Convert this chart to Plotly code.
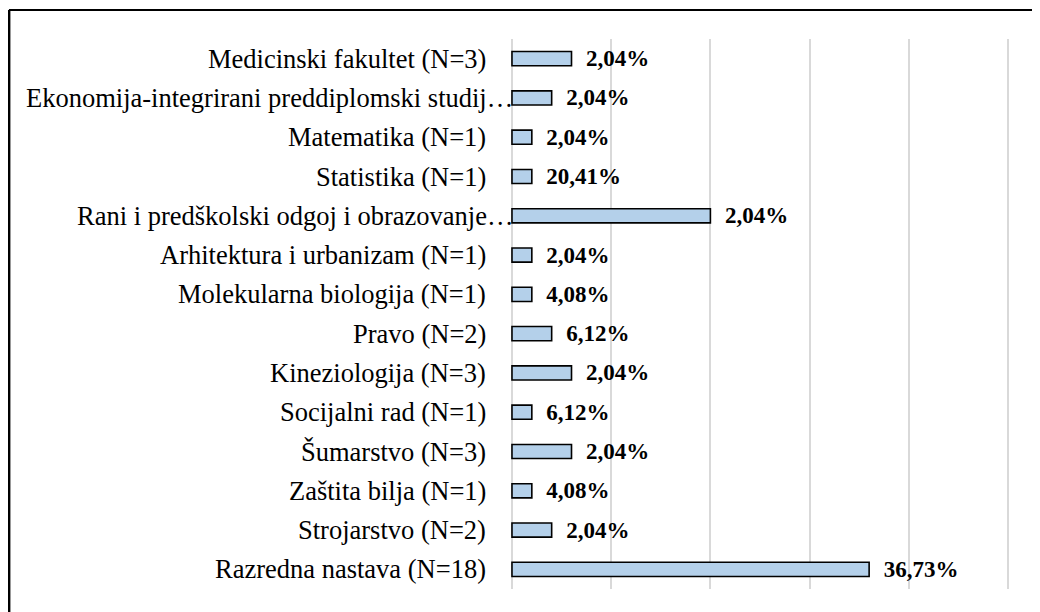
import plotly.graph_objects as go

categories = [
    "Medicinski fakultet (N=3)",
    "Ekonomija-integrirani preddiplomski studij…",
    "Matematika (N=1)",
    "Statistika (N=1)",
    "Rani i predškolski odgoj i obrazovanje…",
    "Arhitektura i urbanizam (N=1)",
    "Molekularna biologija (N=1)",
    "Pravo (N=2)",
    "Kineziologija (N=3)",
    "Socijalni rad (N=1)",
    "Šumarstvo (N=3)",
    "Zaštita bilja (N=1)",
    "Strojarstvo (N=2)",
    "Razredna nastava (N=18)",
]
counts = [3, 2, 1, 1, 10, 1, 1, 2, 3, 1, 3, 1, 2, 18]
labels = ["2,04%", "2,04%", "2,04%", "20,41%", "2,04%", "2,04%", "4,08%",
          "6,12%", "2,04%", "6,12%", "2,04%", "4,08%", "2,04%", "36,73%"]

SERIF = "Times New Roman, Liberation Serif, serif"

# page offset compensation (browser body margin)
OFF = 8
PAD = 0.1                      # small range padding so edge gridlines are drawn
UNIT = 496 / 25                # pixels per count
L = 512 - OFF - PAD * UNIT
W = (25 + 2 * PAD) * UNIT
T, H = 39 - OFF, 550


def px_x(p):
    return (p - OFF - L) / W


def px_y(p):
    return (T + H - (p - OFF)) / H


fig = go.Figure(go.Bar(
    x=counts,
    y=categories,
    orientation="h",
    text=["  " + t for t in labels],
    textposition="outside",
    constraintext="none",
    cliponaxis=False,
    textfont=dict(family=SERIF, size=23, color="black", weight="bold"),
    marker=dict(color="#b4d0ea", line=dict(color="black", width=1.6)),
))

annotations = []
for c in categories:
    annotations.append(dict(
        x=0, y=c, xref="x", yref="y", text=c, showarrow=False,
        xanchor="right", yanchor="middle",
        xshift=3 if c.endswith("…") else -24,
        font=dict(family=SERIF, size=26.5, color="black"),
    ))

fig.update_layout(
    width=1040, height=612,
    margin=dict(l=L, r=1040 - L - W, t=T, b=612 - T - H),
    paper_bgcolor="white", plot_bgcolor="white",
    bargap=0.64,
    showlegend=False,
    xaxis=dict(range=[-PAD, 25 + PAD], dtick=5, tick0=0, showticklabels=False,
               showgrid=True, gridcolor="#d9d9d9", gridwidth=1.5,
               zeroline=False, showline=False, fixedrange=True),
    yaxis=dict(autorange="reversed", showgrid=False, zeroline=False,
               showline=False, ticks="", showticklabels=False),
    annotations=annotations,
    shapes=[
        dict(type="line", xref="paper", yref="paper",
             x0=px_x(9), x1=px_x(1048),
             y0=px_y(10), y1=px_y(10),
             line=dict(color="black", width=2)),
        dict(type="line", xref="paper", yref="paper",
             x0=px_x(9.2), x1=px_x(9.2),
             y0=px_y(10), y1=px_y(620),
             line=dict(color="black", width=2.5)),
    ],
)

fig.write_html("out.html")
